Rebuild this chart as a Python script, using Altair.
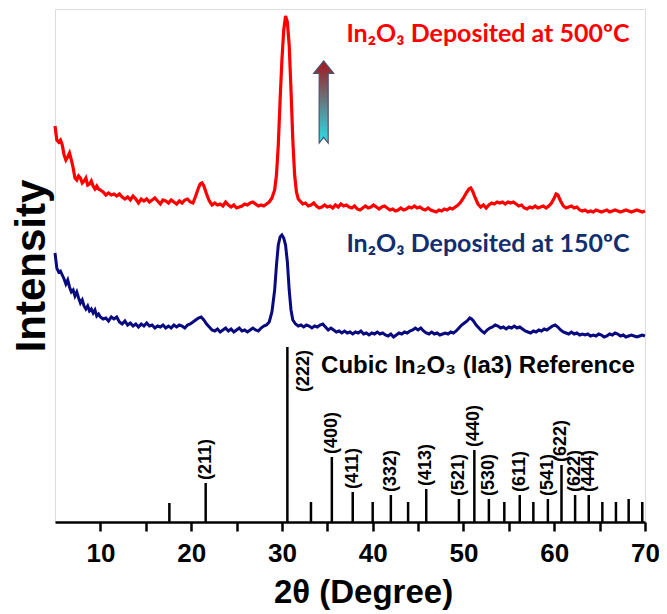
import altair as alt
import pandas as pd

# ---------------- data ----------------
# 2theta (deg), intensity (a.u.)
red_scan = [
    (5.0, 396), (5.2, 382), (5.4, 380), (5.6, 382), (5.8, 377), (6.0, 367), (6.2, 362), (6.4, 365),
    (6.6, 369), (6.8, 362), (7.0, 354), (7.2, 344), (7.4, 342), (7.6, 346), (7.8, 344), (8.0, 339),
    (8.2, 341), (8.4, 344), (8.6, 337), (8.8, 338), (9.0, 341), (9.2, 336), (9.4, 333), (9.6, 336),
    (9.8, 333), (10.0, 332), (10.3, 330), (10.6, 327), (10.9, 329), (11.2, 327), (11.5, 328), (11.8, 326),
    (12.1, 328), (12.4, 325), (12.7, 323), (13.0, 325), (13.3, 322), (13.6, 326), (13.9, 323), (14.2, 319),
    (14.5, 323), (14.8, 321), (15.1, 323), (15.4, 320), (15.7, 322), (16.0, 324), (16.3, 321), (16.6, 318),
    (16.9, 322), (17.2, 321), (17.5, 319), (17.8, 322), (18.1, 320), (18.4, 318), (18.7, 321), (19.0, 319),
    (19.3, 322), (19.6, 323), (19.9, 320), (20.2, 319), (20.5, 326), (20.8, 334), (21.0, 338), (21.2, 339),
    (21.4, 336), (21.7, 328), (22.0, 321), (22.3, 317), (22.6, 319), (22.9, 317), (23.2, 318), (23.5, 316),
    (23.8, 320), (24.1, 317), (24.4, 315), (24.7, 317), (25.0, 314), (25.3, 315), (25.6, 316), (25.9, 318),
    (26.2, 317), (26.5, 319), (26.8, 320), (27.1, 318), (27.4, 316), (27.7, 317), (28.0, 316), (28.3, 318),
    (28.6, 320), (28.9, 324), (29.2, 332), (29.4, 347), (29.6, 377), (29.8, 422), (30.0, 462), (30.2, 492),
    (30.4, 506), (30.6, 500), (30.8, 477), (31.0, 432), (31.2, 382), (31.4, 347), (31.6, 330), (31.8, 323),
    (32.0, 321), (32.3, 318), (32.6, 319), (32.9, 316), (33.2, 317), (33.5, 319), (33.8, 316), (34.1, 314),
    (34.4, 315), (34.7, 317), (35.0, 315), (35.3, 316), (35.6, 314), (35.9, 317), (36.2, 315), (36.5, 318),
    (36.8, 316), (37.1, 317), (37.4, 315), (37.7, 314), (38.0, 316), (38.3, 313), (38.6, 312), (38.9, 314),
    (39.2, 316), (39.5, 314), (39.8, 315), (40.1, 317), (40.4, 315), (40.7, 313), (41.0, 315), (41.3, 316),
    (41.6, 314), (41.9, 312), (42.2, 313), (42.5, 311), (42.8, 312), (43.1, 314), (43.4, 312), (43.7, 313),
    (44.0, 315), (44.3, 314), (44.6, 316), (44.9, 314), (45.2, 315), (45.5, 313), (45.8, 312), (46.1, 314),
    (46.4, 312), (46.7, 311), (47.0, 310), (47.3, 312), (47.6, 311), (47.9, 313), (48.2, 312), (48.5, 314),
    (48.8, 313), (49.1, 315), (49.4, 317), (49.7, 320), (50.0, 324), (50.3, 329), (50.6, 333), (50.8, 334),
    (51.0, 331), (51.3, 324), (51.6, 318), (51.9, 315), (52.2, 317), (52.5, 314), (52.8, 317), (53.1, 319),
    (53.4, 318), (53.7, 320), (54.0, 319), (54.3, 320), (54.6, 318), (54.9, 320), (55.2, 319), (55.5, 320),
    (55.8, 318), (56.1, 316), (56.4, 317), (56.7, 314), (57.0, 313), (57.3, 315), (57.6, 314), (57.9, 316),
    (58.2, 314), (58.5, 315), (58.8, 316), (59.1, 314), (59.4, 316), (59.7, 319), (60.0, 324), (60.2, 328),
    (60.4, 327), (60.7, 321), (61.0, 316), (61.3, 314), (61.6, 315), (61.9, 316), (62.2, 314), (62.5, 315),
    (62.8, 312), (63.1, 311), (63.4, 312), (63.7, 310), (64.0, 311), (64.3, 310), (64.6, 312), (64.9, 311),
    (65.2, 310), (65.5, 311), (65.8, 312), (66.1, 310), (66.4, 311), (66.7, 312), (67.0, 311), (67.3, 310),
    (67.6, 311), (67.9, 312), (68.2, 311), (68.5, 310), (68.8, 311), (69.1, 312), (69.4, 311), (69.7, 310),
    (70.0, 311),
]

blue_scan = [
    (5.0, 269), (5.2, 254), (5.4, 250), (5.6, 251), (5.8, 247), (6.0, 243), (6.2, 238), (6.4, 242),
    (6.6, 235), (6.8, 230), (7.0, 232), (7.2, 226), (7.4, 230), (7.6, 224), (7.8, 219), (8.0, 222),
    (8.2, 216), (8.4, 213), (8.6, 216), (8.8, 211), (9.0, 213), (9.2, 209), (9.4, 212), (9.6, 206),
    (9.8, 208), (10.0, 205), (10.3, 203), (10.6, 204), (10.9, 201), (11.2, 205), (11.5, 203), (11.8, 205),
    (12.1, 200), (12.4, 198), (12.7, 201), (13.0, 197), (13.3, 199), (13.6, 196), (13.9, 198), (14.2, 195),
    (14.5, 198), (14.8, 196), (15.1, 199), (15.4, 196), (15.7, 197), (16.0, 194), (16.3, 196), (16.6, 195),
    (16.9, 197), (17.2, 194), (17.5, 196), (17.8, 194), (18.1, 197), (18.4, 195), (18.7, 197), (19.0, 196),
    (19.3, 194), (19.6, 197), (19.9, 198), (20.2, 200), (20.5, 202), (20.8, 204), (21.1, 205), (21.4, 202),
    (21.7, 198), (22.0, 195), (22.3, 192), (22.6, 191), (22.9, 193), (23.2, 190), (23.5, 192), (23.8, 194),
    (24.1, 191), (24.4, 193), (24.7, 190), (25.0, 192), (25.3, 194), (25.6, 191), (25.9, 192), (26.2, 190),
    (26.5, 192), (26.8, 194), (27.1, 192), (27.4, 191), (27.7, 194), (28.0, 196), (28.3, 197), (28.6, 200),
    (28.9, 210), (29.2, 232), (29.4, 257), (29.6, 277), (29.8, 285), (30.0, 287), (30.2, 284), (30.4, 277),
    (30.6, 260), (30.8, 232), (31.0, 212), (31.2, 202), (31.5, 198), (31.8, 196), (32.1, 197), (32.4, 195),
    (32.7, 197), (33.0, 196), (33.3, 194), (33.6, 196), (33.9, 195), (34.2, 197), (34.5, 198), (34.8, 195),
    (35.1, 192), (35.4, 194), (35.7, 192), (36.0, 190), (36.3, 191), (36.6, 189), (36.9, 191), (37.2, 189),
    (37.5, 190), (37.8, 188), (38.1, 190), (38.4, 189), (38.7, 191), (39.0, 188), (39.3, 189), (39.6, 187),
    (39.9, 189), (40.2, 188), (40.5, 190), (40.8, 188), (41.1, 189), (41.4, 187), (41.7, 186), (42.0, 188),
    (42.3, 185), (42.6, 187), (42.9, 189), (43.2, 188), (43.5, 190), (43.8, 189), (44.1, 191), (44.4, 192),
    (44.7, 194), (45.0, 192), (45.3, 194), (45.6, 191), (45.9, 189), (46.2, 188), (46.5, 190), (46.8, 188),
    (47.1, 189), (47.4, 187), (47.7, 188), (48.0, 189), (48.3, 188), (48.6, 190), (48.9, 189), (49.2, 191),
    (49.5, 194), (49.8, 197), (50.1, 199), (50.4, 201), (50.7, 204), (50.9, 203), (51.1, 201), (51.4, 197),
    (51.7, 194), (52.0, 191), (52.3, 189), (52.6, 192), (52.9, 194), (53.2, 195), (53.5, 197), (53.8, 196),
    (54.1, 194), (54.4, 195), (54.7, 193), (55.0, 195), (55.3, 194), (55.6, 196), (55.9, 194), (56.2, 195),
    (56.5, 193), (56.8, 191), (57.1, 190), (57.4, 189), (57.7, 191), (58.0, 190), (58.3, 192), (58.6, 191),
    (58.9, 193), (59.2, 192), (59.5, 194), (59.8, 196), (60.1, 197), (60.4, 195), (60.7, 192), (61.0, 190),
    (61.3, 189), (61.6, 188), (61.9, 190), (62.2, 188), (62.5, 189), (62.8, 187), (63.1, 188), (63.4, 187),
    (63.7, 188), (64.0, 186), (64.3, 187), (64.6, 186), (64.9, 188), (65.2, 187), (65.5, 185), (65.8, 186),
    (66.1, 188), (66.4, 187), (66.7, 189), (67.0, 188), (67.3, 186), (67.6, 187), (67.9, 185), (68.2, 186),
    (68.5, 187), (68.8, 186), (69.1, 185), (69.4, 186), (69.7, 187), (70.0, 186),
]

# Cubic In2O3 reference pattern
ref_pos = [17.6, 21.6, 30.6, 33.2, 35.5, 37.8, 40.0, 42.0, 43.9, 45.9, 49.5, 51.2,
           52.8, 54.5, 56.2, 57.7, 59.3, 60.8, 62.3, 63.8, 65.3, 66.8, 68.2, 69.7]
ref_int = [19, 39, 175, 20, 65, 30, 20, 27, 20, 33, 23, 72,
           23, 20, 27, 20, 23, 57, 27, 27, 20, 20, 23, 20]

hkl_pos = [21.6, 35.5, 37.8, 42.0, 45.9, 49.5, 51.2, 52.8, 56.2, 59.3, 60.8, 62.3, 63.8]
hkl_txt = ["(211)", "(400)", "(411)", "(332)", "(413)", "(521)", "(440)", "(530)",
           "(611)", "(541)", "(622)", "(622)", "(444)"]
main_hkl = ["(222)"]
main_hkl_pos = [30.6]
main_hkl_y = [130]

x_ticks = [10, 15, 20, 25, 30, 35, 40, 45, 50, 55, 60, 65, 70]

# annotations
notes_txt = ["In₂O₃ Deposited at 500ºC", "In₂O₃ Deposited at 150ºC"]
notes_x = [52.7, 52.7]
notes_y = [480, 270]
notes_col = ["#ff0000", "#132e6e"]
ref_title = "Cubic In₂O₃ (Ia3) Reference"
arrow_x, arrow_y = 34.6, 420

# ---------------- chart ----------------
red_df = pd.DataFrame(red_scan, columns=["tt", "I"])
blue_df = pd.DataFrame(blue_scan, columns=["tt", "I"])
ref_df = pd.DataFrame({"tt": ref_pos, "I": ref_int, "I0": [0] * len(ref_pos)})
hmap = dict(zip(ref_pos, ref_int))
hkl_df = pd.DataFrame({"tt": hkl_pos, "lab": hkl_txt, "I": [hmap[p] for p in hkl_pos]})
main_df = pd.DataFrame({"tt": main_hkl_pos, "lab": main_hkl, "I": main_hkl_y})
notes_df = pd.DataFrame({"tt": notes_x, "I": notes_y, "lab": notes_txt, "col": notes_col})

FONT = "Liberation Sans"
xs = alt.Scale(domain=[5, 70], nice=False, zero=False)
ys = alt.Scale(domain=[0, 513], nice=False, zero=False)

X = alt.X("tt:Q", scale=xs, axis=alt.Axis(
    title="2θ (Degree)", values=x_ticks,
    labelExpr="datum.value % 10 === 0 ? datum.label : ''",
    grid=False, domainColor="black", domainWidth=2.5, tickColor="black", tickWidth=2.5,
    tickSize=9, labelFont=FONT, labelFontSize=26, labelFontWeight="bold", labelColor="black",
    labelPadding=9, labelFlush=False, titleFont=FONT, titleFontSize=33, titleFontWeight="bold",
    titleColor="black", titlePadding=10, titleX=308))
Y = alt.Y("I:Q", scale=ys, axis=alt.Axis(
    title="Intensity", labels=False, ticks=False, domain=False, grid=False,
    titleFont=FONT, titleFontSize=42, titleFontWeight="bold",
    titleColor="black", titlePadding=2))

red = alt.Chart(red_df).mark_line(color="#ff0000", strokeWidth=3.2).encode(x=X, y=Y)
blue = alt.Chart(blue_df).mark_line(color="#0a0a80", strokeWidth=3).encode(x="tt:Q", y="I:Q")
sticks = alt.Chart(ref_df).mark_rule(color="black", strokeWidth=2.5).encode(
    x="tt:Q", y="I0:Q", y2="I:Q")
hkl = alt.Chart(hkl_df).mark_text(angle=270, align="left", baseline="middle", dx=3,
                                  font=FONT, fontWeight="bold", fontSize=18, color="black").encode(
    x="tt:Q", y="I:Q", text="lab:N")
main = alt.Chart(main_df).mark_text(angle=270, align="left", baseline="middle", dy=17,
                                    font=FONT, fontWeight="bold", fontSize=18, color="black").encode(
    x="tt:Q", y="I:Q", text="lab:N")
notes = alt.Chart(notes_df).mark_text(align="center", baseline="alphabetic", font="Lato",
                                      fontWeight="bold", fontSize=25).encode(
    x="tt:Q", y="I:Q", text="lab:N", color=alt.Color("col:N", scale=None))
reflab = alt.Chart(pd.DataFrame({"tt": [51.6], "I": [149], "lab": [ref_title]})).mark_text(
    align="center", baseline="alphabetic", font=FONT, fontWeight="bold", fontSize=24,
    color="black").encode(x="tt:Q", y="I:Q", text="lab:N")

arrow_path = "M0,-1 L0.245,-0.7 L0.11,-0.7 L0.11,1 L0,0.86 L-0.11,1 L-0.11,-0.7 L-0.245,-0.7 Z"
grad = alt.Gradient(gradient="linear",
                    stops=[alt.GradientStop(color="#a3151b", offset=0),
                           alt.GradientStop(color="#25e3ea", offset=1)],
                    x1=0, x2=0, y1=0, y2=1)
arrow = alt.Chart(pd.DataFrame({"tt": [arrow_x], "I": [arrow_y]})).mark_point(
    shape=arrow_path, filled=True, fill=grad, stroke="#4b5372", strokeWidth=1.2,
    opacity=1, size=6724).encode(x="tt:Q", y="I:Q")

chart = alt.layer(red, blue, sticks, hkl, main, notes, reflab, arrow).properties(
    width=590, height=513,
    autosize=alt.AutoSizeParams(type="none"),
    padding={"left": 47, "top": 1, "right": 14, "bottom": 90},
).configure_view(stroke="black", strokeWidth=3).configure(background="white")

chart.save("out.html", embed_options={"renderer": "svg", "actions": False})
